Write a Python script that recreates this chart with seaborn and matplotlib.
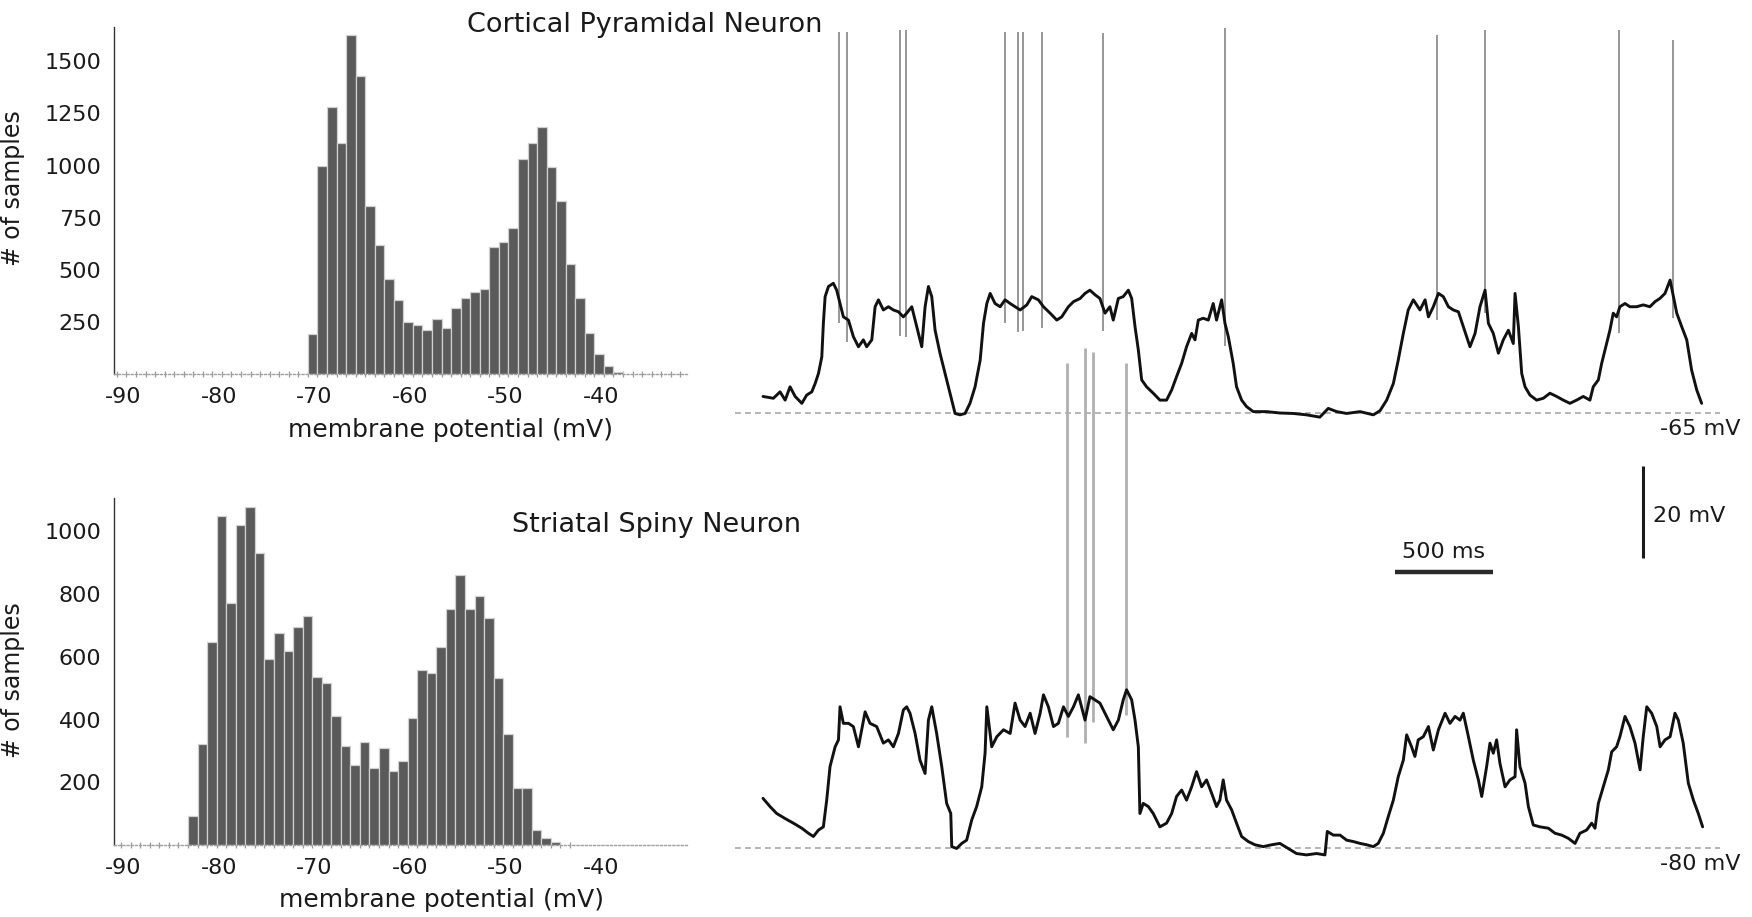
import numpy as np
import pandas as pd
import matplotlib
matplotlib.use("Agg")
import matplotlib.pyplot as plt
import seaborn as sns

# ---------------- data ----------------
# histogram of membrane potential (1 mV bins)
cortical_bin_start = -70.7
cortical_counts = [190, 1000, 1280, 1110, 1625, 1430, 808, 619, 458, 354, 250, 234, 213,
                   266, 221, 319, 365, 394, 410, 611, 635, 702, 1030, 1110, 1184, 995,
                   830, 530, 365, 199, 98, 38, 10]
striatal_bin_start = -83.25
striatal_counts = [91, 322, 647, 1050, 770, 1021, 1077, 931, 594, 675, 619, 696, 730, 536,
                   515, 412, 314, 255, 327, 245, 309, 235, 269, 404, 558, 548, 632, 751,
                   862, 751, 793, 724, 531, 354, 181, 181, 49, 22, 8]
hist_xticks = [-90, -80, -70, -60, -50, -40]
cortical_yticks = [250, 500, 750, 1000, 1250, 1500]
striatal_yticks = [200, 400, 600, 800, 1000]

# cortical pyramidal neuron trace (time in ms, membrane potential in mV)
cortical_t = [0, 53, 87, 113, 138, 164, 198, 223, 249, 266, 283, 300, 308, 317, 334, 359, 376,
              393, 410, 436, 461, 487, 512, 529, 555, 572, 589, 614, 640, 665, 691, 716, 733,
              759, 784, 810, 827, 844, 861, 878, 903, 937, 963, 980, 1005, 1031, 1056, 1082,
              1108, 1125, 1142, 1159, 1184, 1210, 1235, 1261, 1286, 1312, 1346, 1371, 1405,
              1431, 1465, 1499, 1524, 1558, 1584, 1618, 1643, 1668, 1694, 1719, 1745, 1770,
              1787, 1813, 1838, 1864, 1881, 1898, 1915, 1932, 1957, 1991, 2025, 2059, 2085,
              2110, 2136, 2161, 2187, 2204, 2221, 2246, 2272, 2297, 2314, 2340, 2357, 2374,
              2399, 2416, 2442, 2467, 2501, 2569, 2637, 2705, 2773, 2841, 2884, 2927, 2978,
              3046, 3114, 3148, 3182, 3216, 3241, 3267, 3292, 3318, 3352, 3378, 3395, 3420,
              3446, 3471, 3497, 3522, 3548, 3573, 3607, 3633, 3658, 3684, 3701, 3726, 3752,
              3777, 3803, 3828, 3837, 3854, 3871, 3888, 3913, 3947, 3981, 4015, 4049, 4083,
              4117, 4151, 4185, 4219, 4236, 4262, 4279, 4296, 4321, 4338, 4355, 4372, 4398,
              4423, 4457, 4491, 4525, 4551, 4576, 4602, 4628, 4645, 4662, 4687, 4713, 4738,
              4764, 4789]
cortical_v = [-61.4, -61.8, -60.4, -62.2, -59.3, -61.4, -62.9, -61.1, -60.4, -58.6, -56.4,
              -52.8, -45.5, -39.7, -37.5, -36.8, -38.3, -41.2, -44.1, -44.8, -48.4, -50.6,
              -49.1, -50.6, -49.1, -41.9, -40.4, -42.6, -41.9, -42.6, -43.0, -44.1, -43.3,
              -41.9, -46.2, -50.6, -41.9, -37.5, -39.7, -47.0, -52.0, -57.8, -62.2, -65.1,
              -65.4, -65.1, -62.9, -59.3, -53.5, -45.5, -41.2, -39.0, -41.2, -41.9, -40.4,
              -41.2, -41.9, -42.6, -41.5, -39.7, -40.4, -41.9, -43.3, -44.8, -44.1, -41.9,
              -40.8, -40.1, -39.0, -38.3, -39.3, -40.1, -43.3, -41.9, -44.8, -40.1, -39.7,
              -38.3, -40.1, -46.2, -51.3, -57.8, -59.3, -60.7, -62.2, -62.2, -60.0, -57.1,
              -54.2, -50.6, -47.7, -49.1, -44.8, -44.4, -44.8, -41.2, -44.8, -40.4, -45.5,
              -48.4, -54.2, -59.3, -62.2, -63.6, -64.7, -64.7, -65.0, -65.1, -65.4, -65.9,
              -64.0, -64.7, -65.1, -64.7, -65.4, -64.5, -62.2, -58.6, -53.5, -47.7, -42.6,
              -40.4, -42.6, -40.4, -44.1, -41.9, -39.0, -39.7, -41.9, -42.6, -43.0, -46.2,
              -50.6, -47.7, -41.9, -38.3, -45.5, -47.7, -52.0, -49.1, -47.0, -49.9, -39.0,
              -46.2, -56.4, -59.3, -61.1, -62.2, -61.8, -60.7, -61.4, -62.2, -62.9, -62.2,
              -61.4, -62.2, -59.3, -57.8, -54.2, -51.3, -47.0, -43.3, -44.1, -41.9, -41.2,
              -41.9, -41.9, -41.5, -41.9, -40.8, -40.1, -39.0, -36.1, -39.7, -43.3, -46.2,
              -49.1, -55.7, -60.0, -62.9]
cortical_spike_t = [388, 429, 699, 730, 1235, 1301, 1327, 1423, 1735, 2357, 3439, 3684, 4367, 4643]
cortical_spike_peak = [17.8, 17.8, 18.3, 18.3, 17.8, 17.8, 17.8, 17.8, 17.6, 18.7, 17.2, 18.3, 18.3, 16.1]

# striatal spiny neuron trace (time in ms, membrane potential in mV)
striatal_t = [0, 36, 70, 113, 155, 198, 232, 257, 283, 308, 325, 342, 368, 385, 393, 410, 436,
              461, 487, 521, 546, 580, 614, 640, 665, 691, 716, 733, 750, 776, 801, 827, 844,
              861, 886, 912, 937, 958, 963, 988, 1014, 1039, 1065, 1090, 1116, 1133, 1142,
              1167, 1193, 1227, 1261, 1286, 1312, 1337, 1363, 1388, 1414, 1431, 1456, 1482,
              1507, 1533, 1558, 1584, 1609, 1643, 1668, 1694, 1719, 1753, 1787, 1813, 1838,
              1855, 1881, 1898, 1915, 1923, 1940, 1966, 1991, 2025, 2059, 2085, 2110, 2136,
              2161, 2187, 2212, 2238, 2263, 2289, 2314, 2331, 2348, 2365, 2391, 2416, 2442,
              2476, 2510, 2552, 2595, 2637, 2680, 2722, 2773, 2824, 2867, 2879, 2910, 2944,
              2978, 3012, 3046, 3080, 3114, 3139, 3165, 3190, 3216, 3241, 3267, 3284, 3309,
              3326, 3343, 3369, 3395, 3420, 3446, 3480, 3505, 3531, 3556, 3573, 3599, 3624,
              3650, 3667, 3692, 3709, 3726, 3743, 3760, 3786, 3811, 3837, 3845, 3862, 3888,
              3905, 3930, 3964, 4007, 4041, 4075, 4109, 4143, 4168, 4202, 4228, 4245, 4262,
              4287, 4313, 4330, 4355, 4372, 4398, 4423, 4449, 4475, 4491, 4509, 4534, 4560,
              4577, 4602, 4628, 4653, 4670, 4695, 4721, 4747, 4772, 4794]
striatal_v = [-69.2, -71.0, -72.5, -73.6, -74.6, -75.7, -76.8, -77.5, -76.1, -75.4, -69.6,
              -62.3, -58.0, -56.5, -49.3, -52.9, -52.9, -53.6, -58.0, -50.4, -52.9, -53.6,
              -57.2, -56.5, -58.0, -55.1, -50.0, -49.3, -50.7, -55.1, -60.9, -63.8, -52.2,
              -49.3, -55.1, -62.3, -70.3, -72.5, -79.7, -80.1, -79.0, -78.3, -73.9, -71.0,
              -66.7, -59.4, -49.3, -58.0, -55.8, -54.3, -55.1, -48.5, -52.2, -53.6, -50.7,
              -55.1, -50.7, -46.7, -49.3, -53.6, -52.9, -49.3, -51.4, -49.3, -46.7, -52.2,
              -47.1, -47.8, -48.5, -51.4, -54.3, -52.2, -47.8, -45.6, -47.8, -52.2, -58.0,
              -72.5, -70.3, -71.0, -72.5, -75.4, -74.6, -72.5, -68.8, -67.4, -69.6, -66.7,
              -63.4, -66.7, -65.2, -68.1, -71.0, -69.6, -65.2, -69.6, -71.7, -74.6, -77.5,
              -78.6, -79.3, -79.7, -79.3, -79.0, -80.1, -81.2, -81.5, -81.2, -81.5, -76.4,
              -77.2, -77.2, -78.3, -78.6, -79.0, -79.3, -79.7, -79.0, -76.8, -73.2, -69.6,
              -64.5, -60.9, -55.4, -58.0, -60.1, -56.5, -55.8, -53.6, -58.7, -54.3, -50.7,
              -52.9, -51.4, -52.2, -50.7, -55.8, -60.9, -65.2, -68.8, -62.3, -57.2, -59.4,
              -56.5, -61.6, -66.7, -65.2, -64.5, -54.3, -62.3, -65.9, -71.0, -75.0, -75.4,
              -75.7, -76.8, -77.2, -77.9, -79.0, -76.8, -76.1, -74.6, -75.7, -70.3, -66.7,
              -63.0, -59.1, -58.0, -55.8, -51.4, -53.6, -57.2, -63.0, -55.8, -49.3, -50.7,
              -53.6, -58.0, -56.5, -55.8, -50.7, -52.2, -57.2, -65.9, -69.6, -72.5, -75.4]
striatal_spike_t = [1551, 1643, 1684, 1852]
striatal_spike_peak = [25.4, 28.7, 27.8, 25.4]

cortical_rest = -65
striatal_rest = -80
scale_time_ms = 500
scale_volt_mv = 20

# ---------------- style ----------------
sns.set_style("white")
plt.rcParams["font.family"] = ["DejaVu Sans"]
TXT = "#1a1a1a"

W, H = 1752, 917
fig = plt.figure(figsize=(W / 100, H / 100), dpi=100)


def fx(px):
    return px / W


def fy(py):
    return 1 - py / H


def draw_hist(rect, start, counts, yticks, ylim_top, ylab_y, xlab_pos):
    ax = fig.add_axes(rect)
    n = len(counts)
    centers = start + 0.5 + np.arange(n)
    df = pd.DataFrame({"mv": centers, "n": np.asarray(counts, dtype=float)})
    sns.histplot(data=df, x="mv", weights="n", binwidth=1.0,
                 binrange=(start, start + n), ax=ax, color="#5a5a5a",
                 edgecolor="#d0d0d0", linewidth=0.9, alpha=1.0, zorder=2)
    ax.set_xlim(-91, -31)
    ax.set_ylim(0, ylim_top)
    # dotted baseline with small marks at each 1-mV bin
    marks = start + np.arange(-21, 41)
    marks = marks[(marks > -91) & (marks < -31)]
    ax.plot(marks, np.zeros_like(marks), ls="", marker="|", ms=5, mew=0.9,
            color="#9a9a9a", clip_on=False, zorder=1)
    ax.set_xticks(hist_xticks)
    ax.set_xticklabels([str(v) for v in hist_xticks])
    ax.set_yticks(yticks)
    ax.set_yticklabels([str(v) for v in yticks])
    ax.tick_params(axis="both", length=0, labelsize=16, labelcolor=TXT)
    ax.tick_params(axis="x", pad=9)
    ax.tick_params(axis="y", pad=9)
    for s in ["top", "right"]:
        ax.spines[s].set_visible(False)
    ax.spines["left"].set_color("#333333")
    ax.spines["left"].set_linewidth(1.0)
    ax.spines["bottom"].set_color("#a0a0a0")
    ax.spines["bottom"].set_linewidth(1.0)
    ax.spines["bottom"].set_linestyle((0, (1.5, 1.5)))
    ax.set_ylabel("# of samples", fontsize=17, color=TXT)
    ax.yaxis.set_label_coords(-0.155, ylab_y)
    ax.set_xlabel("membrane potential (mV)", fontsize=18, color=TXT)
    ax.xaxis.set_label_coords(*xlab_pos)
    ax.grid(False)
    return ax


draw_hist([fx(114), fy(374), fx(573), (374 - 27) / H], cortical_bin_start,
          cortical_counts, cortical_yticks, 1665, 0.536, (0.588, -0.128))
draw_hist([fx(114), fy(845), fx(573), (845 - 498) / H], striatal_bin_start,
          striatal_counts, striatal_yticks, 1106, 0.476, (0.572, -0.124))

fig.text(fx(645), fy(25), "Cortical Pyramidal Neuron", fontsize=19.5, color=TXT,
         ha="center", va="center")
fig.text(fx(656), fy(525), "Striatal Spiny Neuron", fontsize=19.5, color=TXT,
         ha="center", va="center")

# ---------------- traces ----------------
PX_PER_MV = 4.6
PX_PER_MS = 0.196
X0 = 735
T0_PX = 763
xlim = ((X0 - T0_PX) / PX_PER_MS, (W - T0_PX) / PX_PER_MS)
dash_end = (1720 - T0_PX) / PX_PER_MS


def trace_axes(rest, rest_px):
    ax = fig.add_axes([fx(X0), 0, 1 - fx(X0), 1])
    ax.patch.set_alpha(0)
    ax.set_xlim(*xlim)
    ax.set_ylim(rest - (H - rest_px) / PX_PER_MV, rest + rest_px / PX_PER_MV)
    ax.axis("off")
    return ax


def draw_trace(ax, t, v, spk_t, spk_peak, rest, spike_color, spike_lw, label):
    base = np.interp(spk_t, t, v) - 5
    ax.vlines(spk_t, base, spk_peak, colors=spike_color, linewidth=spike_lw, zorder=1)
    sns.lineplot(x=t, y=v, ax=ax, color="#111111", linewidth=2.1, sort=False,
                 estimator=None, zorder=3, legend=False)
    ax.hlines(rest, xlim[0], dash_end, colors="#a8a8a8", linewidth=1.2,
              linestyles=(0, (3.5, 2.5)), zorder=0)
    ax.text(4985, rest - 3.4, label, ha="right", va="center", fontsize=16, color=TXT)
    ax.set_xlim(*xlim)


ax_top = trace_axes(cortical_rest, 413)
draw_trace(ax_top, cortical_t, cortical_v, cortical_spike_t, cortical_spike_peak,
           cortical_rest, "#858585", 1.2, f"{cortical_rest} mV")
ax_top.set_ylim(cortical_rest - (H - 413) / PX_PER_MV, cortical_rest + 413 / PX_PER_MV)

ax_bot = trace_axes(striatal_rest, 848)
draw_trace(ax_bot, striatal_t, striatal_v, striatal_spike_t, striatal_spike_peak,
           striatal_rest, "#b0b0b0", 2.0, f"{striatal_rest} mV")
ax_bot.set_ylim(striatal_rest - (H - 848) / PX_PER_MV, striatal_rest + 848 / PX_PER_MV)

# scale bars (in striatal axes data units)
sb_t0 = 3224
sb_v = -20
ax_bot.plot([sb_t0, sb_t0 + scale_time_ms], [sb_v, sb_v], color="#2a2a2a", lw=3.2,
            solid_capstyle="butt")
ax_bot.text(sb_t0 + scale_time_ms / 2, sb_v + 2.2, f"{scale_time_ms} ms", ha="center",
            va="bottom", fontsize=16, color=TXT)
vb_t = 4490
vb_v0 = -17
ax_bot.plot([vb_t, vb_t], [vb_v0, vb_v0 + scale_volt_mv], color="#1a1a1a", lw=2.2,
            solid_capstyle="butt")
ax_bot.text(vb_t + 50, vb_v0 + scale_volt_mv / 2 - 0.8, f"{scale_volt_mv} mV", ha="left",
            va="center", fontsize=16, color=TXT)

fig.savefig("out.png", dpi=100, facecolor="white")
